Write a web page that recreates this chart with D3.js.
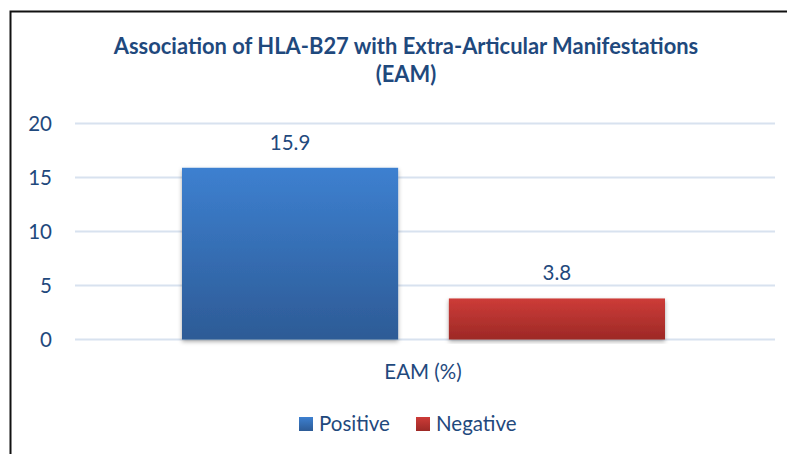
<!DOCTYPE html>
<html>
<head>
<meta charset="utf-8">
<script src="https://cdn.jsdelivr.net/npm/d3@7"></script>
<style>
  body { margin: 0; background: #fff; }
  text { font-family: Lato, "Open Sans", sans-serif; }
</style>
</head>
<body>
<svg id="chart" width="787" height="454"></svg>
<script>
// chart data
const categories = ['EAM (%)'];
const seriesNames = ['Positive', 'Negative'];
const seriesValues = [15.9, 3.8];
const yTicks = [0, 5, 10, 15, 20];
const titleLines = ['Association of HLA-B27 with Extra-Articular Manifestations', '(EAM)'];

const width = 787;
const height = 454;
const textColor = '#1f497d';
const labelSize = 20.5;
const plot = { left: 75, right: 775, top: 123.5, bottom: 339.5 };

const svg = d3.select('#chart');
const defs = svg.append('defs');

const gradients = [
  { id: 'gBlue', top: '#3d80d0', bottom: '#2d5b96' },
  { id: 'gRed', top: '#cd3c38', bottom: '#9d2926' }
];
gradients.forEach(g => {
  const lg = defs.append('linearGradient')
    .attr('id', g.id)
    .attr('x1', 0).attr('y1', 0).attr('x2', 0).attr('y2', 1);
  lg.append('stop').attr('offset', '0%').attr('stop-color', g.top);
  lg.append('stop').attr('offset', '100%').attr('stop-color', g.bottom);
});

const shadow = defs.append('filter')
  .attr('id', 'shadow')
  .attr('x', '-10%').attr('y', '-10%')
  .attr('width', '120%').attr('height', '120%');
shadow.append('feDropShadow')
  .attr('dx', 0).attr('dy', 2)
  .attr('stdDeviation', 2)
  .attr('flood-color', '#000')
  .attr('flood-opacity', 0.35);

// frame
svg.append('path')
  .attr('d', `M10.5,${height} V11.5 H${width}`)
  .attr('fill', 'none')
  .attr('stroke', '#111')
  .attr('stroke-width', 2);

// title
const title = svg.append('g');
title.selectAll('text')
  .data(titleLines)
  .enter()
  .append('text')
  .attr('x', 406)
  .attr('y', (d, i) => 54 + i * 28)
  .attr('text-anchor', 'middle')
  .attr('fill', textColor)
  .attr('font-weight', 'bold')
  .attr('font-size', 19)
  .text(d => d);

// fit title to the width of the original
const firstLine = title.select('text').node();
const w = firstLine.getComputedTextLength();
title.selectAll('text').attr('font-size', 19 * 585 / w);

const x0 = d3.scaleBand()
  .domain(categories)
  .range([plot.left, plot.right]);

const x1 = d3.scaleBand()
  .domain(seriesNames)
  .range([107, 700 - 110])
  .paddingInner(0.19);

const y = d3.scaleLinear()
  .domain([0, 20])
  .range([plot.bottom, plot.top]);

// gridlines
svg.append('g')
  .selectAll('line')
  .data(yTicks)
  .enter()
  .append('line')
  .attr('x1', plot.left)
  .attr('x2', plot.right)
  .attr('y1', d => y(d))
  .attr('y2', d => y(d))
  .attr('stroke', '#d8e2ef')
  .attr('stroke-width', 2);

// y axis labels
const yAxis = d3.axisLeft(y).tickValues(yTicks).tickSize(0).tickPadding(0);
svg.append('g')
  .attr('transform', 'translate(52,0)')
  .call(yAxis)
  .call(g => g.select('.domain').remove())
  .selectAll('text')
  .attr('fill', textColor)
  .attr('font-size', labelSize)
  .attr('font-family', 'Lato, sans-serif')
  .attr('dy', '0.35em');

// bars
const bars = svg.append('g');
categories.forEach(cat => {
  const gx = x0(cat);
  bars.selectAll('rect.bar')
    .data(seriesValues)
    .enter()
    .append('rect')
    .attr('class', 'bar')
    .attr('x', (d, i) => gx + x1(seriesNames[i]))
    .attr('width', x1.bandwidth())
    .attr('y', d => y(d))
    .attr('height', d => y(0) - y(d))
    .attr('fill', (d, i) => `url(#${gradients[i].id})`)
    .attr('filter', 'url(#shadow)');

  bars.selectAll('text.val')
    .data(seriesValues)
    .enter()
    .append('text')
    .attr('class', 'val')
    .attr('x', (d, i) => gx + x1(seriesNames[i]) + x1.bandwidth() / 2)
    .attr('y', d => y(d) - 18)
    .attr('text-anchor', 'middle')
    .attr('fill', textColor)
    .attr('font-size', labelSize)
    .text(d => d.toFixed(1));
});

// x axis category label
const xAxis = d3.axisBottom(x0).tickSize(0).tickPadding(0);
svg.append('g')
  .attr('transform', `translate(0,${plot.bottom})`)
  .call(xAxis)
  .call(g => g.select('.domain').remove())
  .selectAll('text')
  .attr('fill', textColor)
  .attr('font-size', labelSize)
  .attr('font-family', 'Lato, sans-serif')
  .attr('dy', 0)
  .attr('x', 423 - (plot.left + plot.right) / 2)
  .attr('y', 39);

// legend
const legendX = [299, 416];
const legend = svg.append('g');
seriesNames.forEach((name, i) => {
  const lg = legend.append('g').attr('transform', `translate(${legendX[i]},417)`);
  lg.append('rect')
    .attr('width', 14)
    .attr('height', 14)
    .attr('fill', `url(#${gradients[i].id})`);
  lg.append('text')
    .attr('x', 20)
    .attr('y', 14)
    .attr('fill', textColor)
    .attr('font-size', labelSize)
    .text(name);
});
</script>
</body>
</html>
